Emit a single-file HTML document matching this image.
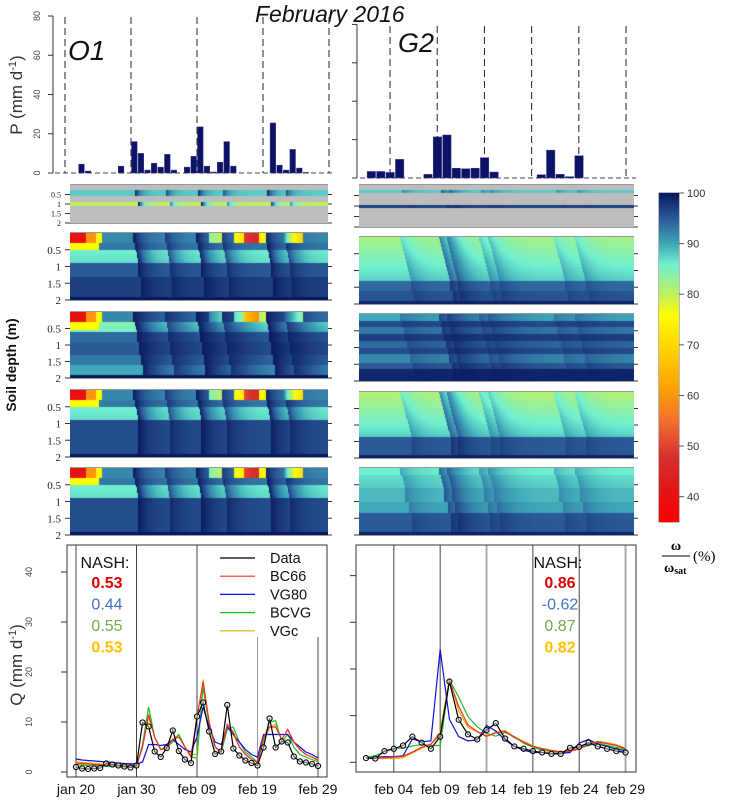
<!DOCTYPE html>
<html><head><meta charset="utf-8"><style>
html,body{margin:0;padding:0;background:#fff;}
body{width:733px;height:803px;position:relative;overflow:hidden;font-family:"Liberation Sans",sans-serif;}
canvas{position:absolute;}
svg{position:absolute;left:0;top:0;}
</style></head><body>
<svg id="svg" width="733" height="803"></svg>
<script>
// ---------- DATA ----------
const pLeftDays=[2,3,8,10,11,12,13,14,15,16,18,19,20,21,22,23,24,25,31,32,33,34,35,36];
const pLeftVals=[4.5,1,3.5,16,10,1.5,5,3,9.5,1.5,3,8.5,23.5,3.5,0.5,5.5,16,3.5,25.5,4,1.5,12,2.5,0.3];
const pRightDays=[1,2,3,4,7,8,9,10,11,12,13,14,19,20,21,22,23];
const pRightVals=[3.4,3.4,2.9,9.7,1.9,21.4,22.4,5.1,4.8,5.1,10.6,3.1,1.7,14.5,1.9,0.7,11.6];
const pTicks=[0,20,40,60,80];

const qLeftData=[1,0.7,0.6,0.7,0.8,1.7,1.5,1.3,1.1,0.9,1.3,9.9,9.1,4.1,3,4.8,8.3,4.2,2.5,1.8,11.1,13.9,8.1,3.6,4.1,13.4,4.7,3.3,2.3,1.8,1.3,4.9,10.7,4.9,6.1,5.9,3.1,2.1,1.9,1.6,1.2];
const qLeftBC66=[1.8,1.7,1.6,1.5,1.45,1.4,1.35,1.3,1.25,1.2,1.2,5,11.5,7,4.5,5,6.5,7,5,3,11,18,10,5,4,9.5,8,5,3.5,2.5,2,7,9,9,6.5,8.5,6,4.5,3.5,3,2.3];
const qLeftVG80=[2.6,2.4,2.3,2.2,2.1,2,1.9,1.8,1.7,1.65,1.6,2,5.5,5.5,5.3,5.5,6.5,5.5,4.5,4,7,13,9,6,5.5,9,7.5,6,4.5,3.5,3,7.5,7.5,7.5,7.5,7.5,6,5,4,3.5,2.8];
const qLeftBCVG=[1.5,1.4,1.3,1.25,1.2,1.15,1.1,1.05,1,1,1,5.5,13,7,4.5,5,6,7.5,5,3,2.8,17,9.5,5,4,8.5,9,6,4,3,2,6.5,10,10.3,6,7.5,5,3.5,3,2.5,2];
const qLeftVGc=[2,1.9,1.8,1.7,1.6,1.55,1.5,1.45,1.4,1.35,1.3,5,11,7,4.5,4.5,6.5,7.5,5,3.5,3.5,18.5,10,5,4,9.5,7.5,5,3.5,2.5,2,6,9,9.5,6.5,8.5,6,4.5,3.5,3,2.5];
const qLeftTicks=[0,10,20,30,40];
const qLeftLabels=["jan 20","jan 30","feb 09","feb 19","feb 29"];
const qLeftLabelDays=[0,10,20,30,40];

const qRightData=[0.9,0.8,2.4,2.9,3.6,5.5,4.2,2.9,5.5,17.3,9.1,6,4.9,6.9,8.4,5.1,3.4,2.9,2.4,2.1,1.8,1.8,3.1,3.3,4.2,3.4,2.9,2.4,2.1];
const qRightVG80=[0.9,1.1,1.2,1.2,1.4,5,4.4,4.6,24.2,9.2,5.5,4.6,4.8,7.9,6.7,4.8,3.4,2.6,2.1,2.1,1.9,1.9,2.1,4.1,4.9,3.9,3.4,2.8,2.5];
const qRightBCVG=[1.1,1.4,2.3,3,3,3.5,3.8,3.6,3.6,17.6,14,9.8,7.6,6.2,5.6,6.4,5.5,4.1,3.2,2.6,2.3,2.1,2.3,3,3.6,4.2,3.6,3.2,2.8];
const qRightVGc=[0.9,0.8,0.8,0.8,1,2,3,3.8,6.5,18,11,7.5,6.5,5.5,6.5,6.8,5.5,4.5,3.5,3,2.6,2.3,2.5,3,4,4.5,4.2,3.8,3];
const qRightBC66=[0.9,0.9,1,1.1,1.3,2.2,3.2,3.9,6,17.5,12,8,6.6,5.6,6.3,6.6,5.3,4.3,3.4,2.9,2.5,2.2,2.4,2.9,3.9,4.4,4,3.6,2.9];
const qRightTicks=[0,10,20,30,40];
const qRightLabels=["feb 04","feb 09","feb 14","feb 19","feb 24","feb 29"];
const qRightLabelDays=[3,8,13,18,23,28];

const nashLeft=["0.53","0.44","0.55","0.53"];
const nashRight=["0.86","-0.62","0.87","0.82"];
const seriesNames=["Data","BC66","VG80","BCVG","VGc"];
const seriesColors=["#000000","#ee3030","#1010e0","#20c020","#f0a800"];

// heatmap specs: layers [d0,d1,vTop,vBot]; events [day,strength]; hot [day0,day1,depthMax,value]
const hmLeftBC66Layers=[[0,0.3,92,92],[0.3,0.5,93,93],[0.5,0.9,86,87],[0.9,1.3,95,95],[1.3,1.9,97,97],[1.9,2,100,100]];
const hmLeftVG80Layers=[[0,0.3,92,92],[0.3,0.6,84,86],[0.6,0.9,94,94],[0.9,1.3,95,95],[1.3,1.6,93,93],[1.6,1.9,90,90],[1.9,2,100,100]];
const hmLeftBCVGLayers=[[0,0.3,92,92],[0.3,0.5,93,93],[0.5,0.9,86,87],[0.9,1.9,96,96],[1.9,2,100,100]];
const hmLeftVGcLayers=[[0,0.3,92,92],[0.3,0.5,93,93],[0.5,0.9,86,87],[0.9,1.9,96,96],[1.9,2,100,100]];
const hmLeftEvents=[[10,1],[15,0.7],[20,1],[24,0.7],[31,1],[34,0.7]];
const hmLeftHot=[[0,2.5,0.25,40],[2.5,4,0.25,60],[4,5,0.15,75],[0,4.5,0.5,76],[22,24,0.06,78],[26,27.5,0.15,70],[27.5,30,0.22,45],[30,31,0.2,74],[34,37,0.1,65]];
const hmRightBC66Layers=[[0,1.3,82,88],[1.3,1.6,94,94],[1.6,1.9,95.5,95.5],[1.9,2,99,99]];
const hmRightVG80Layers=[[0,0.2,90,90],[0.2,0.4,96,96],[0.4,0.6,93,93],[0.6,0.8,97,97],[0.8,1.0,94,94],[1.0,1.2,96,96],[1.2,1.45,92,92],[1.45,1.65,95,95],[1.65,2,99,99]];
const hmRightBCVGLayers=[[0,1.35,81,88],[1.35,1.9,95,95],[1.9,2,99,99]];
const hmRightVGcLayers=[[0,0.2,86,86],[0.2,0.6,87,88],[0.6,1.0,89,89],[1.0,1.35,90,90],[1.35,1.9,95,95],[1.9,2,99,99]];
const hmRightEvents=[[3.6,0.3],[7.7,0.6],[8.5,0.45],[11.9,0.3],[12.9,0.25],[19.8,0.25],[22,0.25]];

// ---------- helpers ----------
const NS="http://www.w3.org/2000/svg";
const svg=document.getElementById('svg');
function el(tag,attrs,parent){const e=document.createElementNS(NS,tag);for(const k in attrs)e.setAttribute(k,attrs[k]);(parent||svg).appendChild(e);return e;}
function txt(x,y,s,attrs,parent){const t=el('text',Object.assign({x:x,y:y},attrs||{}),parent);t.textContent=s;return t;}

const cstops=[[35,[255,0,0]],[42,[224,24,24]],[48,[216,48,48]],[55,[240,112,48]],[62,[255,165,0]],[70,[255,215,0]],[76,[255,255,0]],[80,[192,240,96]],[86,[112,240,208]],[90,[64,168,184]],[95,[42,90,152]],[100,[10,26,96]]];
function cmap(v){v=Math.max(35,Math.min(100,v));for(let i=1;i<cstops.length;i++){if(v<=cstops[i][0]){const a=cstops[i-1],b=cstops[i];const f=(v-a[0])/(b[0]-a[0]);const c=a[1].map((q,j)=>Math.round(q+(b[1][j]-q)*f));return 'rgb('+c.join(',')+')';}}return 'rgb(10,26,96)';}

// ---------- titles ----------
let t=txt(255,22,"February 2016",{'font-size':23,'font-style':'italic',fill:'#111'});


// ---------- P left ----------
const gPL=el('g',{});
function pxL(d){return 65+6.6*d;} function pyL(v){return 173-1.9625*v;}
el('line',{x1:53,y1:pyL(80),x2:53,y2:pyL(0),stroke:'#333'},gPL);
pTicks.forEach(v=>{el('line',{x1:48,y1:pyL(v),x2:53,y2:pyL(v),stroke:'#333'},gPL);
 const tt=txt(40,pyL(v),String(v),{'font-size':9,fill:'#444','text-anchor':'middle',transform:'rotate(-90 40 '+pyL(v)+')'},gPL);});
el('line',{x1:55,y1:pyL(0),x2:335,y2:pyL(0),stroke:'#444','stroke-dasharray':'5,3'},gPL);
[0,10,20,30,40].forEach(d=>el('line',{x1:pxL(d),y1:17,x2:pxL(d),y2:pyL(0),stroke:'#222','stroke-dasharray':'7,4'},gPL));
pLeftDays.forEach((d,i)=>{const r=el('rect',{x:pxL(d)+0.5,y:pyL(pLeftVals[i]),width:5.6,height:pyL(0)-pyL(pLeftVals[i]),fill:'#0d1266',stroke:'#3a3f88','stroke-width':0.5},gPL);
 });
t=txt(68,60,"O1",{'font-size':28,'font-style':'italic',fill:'#111'},gPL);
t=txt(22,95,"P (mm d",{'font-size':17,fill:'#333','text-anchor':'middle',transform:'rotate(-90 22 95)'});

const sup=el('tspan',{'font-size':11,dy:-6});sup.textContent='-1';t.appendChild(sup);const cl=el('tspan',{dy:6});cl.textContent=')';t.appendChild(cl);

// ---------- P right ----------
const gPR=el('g',{});
function pxR(d){return 361.7+9.44*d;} function pyR(v){return 178-1.92*v;}
el('line',{x1:357,y1:pyR(80),x2:357,y2:pyR(0),stroke:'#333'},gPR);
pTicks.forEach(v=>el('line',{x1:352,y1:pyR(v),x2:357,y2:pyR(v),stroke:'#333'},gPR));
el('line',{x1:360,y1:pyR(0),x2:636,y2:pyR(0),stroke:'#444','stroke-dasharray':'5,3'},gPR);
[3,8,13,18,23,28].forEach(d=>el('line',{x1:pxR(d),y1:26,x2:pxR(d),y2:pyR(0),stroke:'#222','stroke-dasharray':'7,4'},gPR));
pRightDays.forEach((d,i)=>{const r=el('rect',{x:pxR(d)-4,y:pyR(pRightVals[i]),width:8.4,height:pyR(0)-pyR(pRightVals[i]),fill:'#0d1266',stroke:'#3a3f88','stroke-width':0.5},gPR);
 });
t=txt(398,52,"G2",{'font-size':27,'font-style':'italic',fill:'#111'},gPR);

// ---------- heatmaps ----------
function heat(name,x0,y0,w,h,nDays,dayOff,layers,events,hot,tau,obs){
 const c=document.createElement('canvas');c.width=w;c.height=h;c.style.left=x0+'px';c.style.top=y0+'px';
 
 
 document.body.appendChild(c);const g=c.getContext('2d');
 if(obs){g.fillStyle='#bdbdbd';g.fillRect(0,0,w,h);}
 const dpx=h/2;
 for(let px=0;px<w;px++){
  const day=dayOff+px/w*nDays;
  layers.forEach(L=>{
   const ya=Math.round(L[0]*dpx),yb=Math.round(L[1]*dpx);
   const step=(L[2]!==L[3])?2:(yb-ya);
   for(let y=ya;y<yb;y+=step){
    const dm=(y/dpx);const f=(y-ya)/Math.max(1,yb-ya);
    let v=L[2]+(L[3]-L[2])*f;
    hot.forEach(H=>{if(day>=H[0]&&day<H[1]&&dm<H[2])v=Math.min(v,H[3]);});
    events.forEach(E=>{const lag=dm*0.9;const dt=day-E[0]-lag;if(dt>=0){v=v+(100-v)*E[1]*Math.exp(-dt/tau);}});
    g.fillStyle=cmap(v);g.fillRect(px,y,1,Math.min(step,yb-y));
   }
  });
 }
 return c;
}
heat('heatmap-obs-left',70,185,258,38,41,0,[[0.25,0.6,88,88],[0.9,1.1,80,80]],hmLeftEvents,[],0.8,true);
heat('heatmap-bc66-left',70,233,258,67,41,0,hmLeftBC66Layers,hmLeftEvents,hmLeftHot,1.6,false);
heat('heatmap-vg80-left',70,312,258,66,41,0,hmLeftVG80Layers,hmLeftEvents,hmLeftHot,4,false);
heat('heatmap-bcvg-left',70,390,258,67,41,0,hmLeftBCVGLayers,hmLeftEvents,hmLeftHot,1.8,false);
heat('heatmap-vgc-left',70,468,258,67,41,0,hmLeftVGcLayers,hmLeftEvents,hmLeftHot,1.8,false);
heat('heatmap-obs-right',359,185,275,42,29,-0.7,[[0.25,0.4,88,88],[0.95,1.1,97,97]],hmRightEvents,[],0.8,true);
heat('heatmap-bc66-right',359,237,275,67,29,-0.7,hmRightBC66Layers,hmRightEvents,[],1.2,false);
heat('heatmap-vg80-right',359,314,275,67,29,-0.7,hmRightVG80Layers,hmRightEvents,[],2.5,false);
heat('heatmap-bcvg-right',359,392,275,66,29,-0.7,hmRightBCVGLayers,hmRightEvents,[],1.2,false);
heat('heatmap-vgc-right',359,468,275,67,29,-0.7,hmRightVGcLayers,hmRightEvents,[],1.5,false);

// heatmap axes
const hmBoxes=[[70,185,258,38,true],[70,233,258,67,false],[70,312,258,66,false],[70,390,258,67,false],[70,468,258,67,false]];
const depthTicks=[0.5,1,1.5,2];
hmBoxes.forEach(b=>{const g=el('g',{});
 el('line',{x1:b[0],y1:b[1],x2:b[0]+b[2],y2:b[1],stroke:'#333','stroke-width':1},g);
 el('line',{x1:b[0],y1:b[1]+b[3],x2:b[0]+b[2],y2:b[1]+b[3],stroke:'#333','stroke-width':1},g);
 depthTicks.forEach(d=>{const y=b[1]+d/2*b[3];el('line',{x1:b[0]-5,y1:y,x2:b[0],y2:y,stroke:'#333'},g);el('line',{x1:b[0]+b[2],y1:y,x2:b[0]+b[2]+4,y2:y,stroke:'#333'},g);
  txt(b[0]-9,y+(b[4]?3:4),String(d),{'font-size':b[4]?8:11,'font-family':'Liberation Serif, serif','text-anchor':'end',fill:'#222'},g);});});
const hmBoxesR=[[359,185,275,42],[359,237,275,67],[359,314,275,67],[359,392,275,66],[359,468,275,67]];
const hmNames=["OBS","BC66","VG80","BCVG","VGc"];
hmBoxesR.forEach((b,i)=>{const g=el('g',{});
 el('line',{x1:b[0],y1:b[1],x2:b[0]+b[2],y2:b[1],stroke:'#333'},g);
 el('line',{x1:b[0],y1:b[1]+b[3],x2:b[0]+b[2],y2:b[1]+b[3],stroke:'#333'},g);
 depthTicks.forEach(d=>{const y=b[1]+d/2*b[3];el('line',{x1:b[0]-5,y1:y,x2:b[0],y2:y,stroke:'#333'},g);el('line',{x1:b[0]+b[2],y1:y,x2:b[0]+b[2]+4,y2:y,stroke:'#333'},g);});
 const tl=txt(632,b[1]+(i==0?29:38),hmNames[i],{'font-size':18,'font-weight':'bold','font-style':'italic','text-anchor':'end',fill:'#111'},g);
 });
t=txt(16,365,"Soil depth (m)",{'font-size':14,'font-weight':'bold','text-anchor':'middle',fill:'#111',transform:'rotate(-90 16 365)'});


// ---------- colorbar ----------
const cb=document.createElement('canvas');cb.width=20;cb.height=329;cb.style.left='659px';cb.style.top='193px';


document.body.appendChild(cb);{const g=cb.getContext('2d');for(let y=0;y<329;y++){g.fillStyle=cmap(100-y/329*65);g.fillRect(0,y,20,1);}}
const cbTicks=[100,90,80,70,60,50,40];
const gCB=el('g',{});
el('rect',{x:659,y:193,width:20,height:329,fill:'none',stroke:'#555','stroke-width':0.8},gCB);
cbTicks.forEach(v=>{const y=193+(100-v)*329/65;el('line',{x1:679,y1:y,x2:684,y2:y,stroke:'#555'},gCB);txt(687,y+4,String(v),{'font-size':11,fill:'#333'},gCB);});
const gU=el('g',{});
txt(676,550,"ω",{'font-size':14,'font-weight':'bold','font-family':'Liberation Serif, serif','text-anchor':'middle'},gU);
el('line',{x1:662,y1:556,x2:690,y2:556,stroke:'#000','stroke-width':1},gU);
const ws=txt(664,572,"ω",{'font-size':14,'font-weight':'bold','font-family':'Liberation Serif, serif'},gU);const sb=el('tspan',{'font-size':10,dy:2});sb.textContent='sat';ws.appendChild(sb);
txt(693,561,"(%)",{'font-size':15,'font-family':'Liberation Serif, serif'},gU);

// ---------- Q panels ----------
function qPanel(name,box,xf,yf,ticks,labels,labelDays,series,nash,nashX,vlines,legend){
 const g=el('g',{});
 vlines.forEach(V=>el('line',{x1:xf(V[0]),y1:V[1],x2:xf(V[0]),y2:box[1]+box[3],stroke:V[2],'stroke-width':V[3]},g));
 el('rect',{x:box[0],y:box[1],width:box[2],height:box[3],fill:'none',stroke:'#333','stroke-width':1},g);
 ticks.forEach(v=>{el('line',{x1:box[0]-6,y1:yf(v),x2:box[0],y2:yf(v),stroke:'#333'},g);});
 labels.forEach((s,i)=>{const l=txt(xf(labelDays[i]),794,s,{'font-size':14,'text-anchor':'middle',fill:'#111'},g);});
 for(let k=series.length-1;k>=0;k--){const S=series[k];
  const p=el('polyline',{points:S.v.map((v,i)=>xf(i)+','+yf(v)).join(' '),fill:'none',stroke:S.c,'stroke-width':1.2},g);
  
  if(S.n==='Data'){S.v.forEach((v,i)=>{const cc=el('circle',{cx:xf(i),cy:yf(v),r:2.6,fill:'#ddd','fill-opacity':0.5,stroke:'#000','stroke-width':1},g);});}
 }
 const nt=txt(nashX,568,"NASH:",{'font-size':16,'text-anchor':'middle',fill:'#111'},g);
 const nc=['#e00000','#4472c4','#70ad47','#ffc000'],nb=['bold','normal','normal','bold'];
 nash.forEach((s,i)=>{const n=txt(nashX+2,588+i*21.5,s,{'font-size':16,'font-weight':nb[i],'text-anchor':'middle',fill:nc[i]},g);});
 if(legend){seriesNames.forEach((s,i)=>{const y=558+i*18.2;const lg=el('g',{},g);
  el('line',{x1:220,y1:y,x2:255,y2:y,stroke:seriesColors[i],'stroke-width':1.2},lg);txt(270,y+5,s,{'font-size':14.5,fill:'#111'},lg);});}
 return g;
}
const xQL=d=>76+6.05*d, yQL=v=>772-5*v;
qPanel('discharge-left-chart',[67,545,260,232],xQL,yQL,qLeftTicks,qLeftLabels,qLeftLabelDays,
 [{n:'Data',v:qLeftData,c:'#000'},{n:'BC66',v:qLeftBC66,c:'#ee3030'},{n:'VG80',v:qLeftVG80,c:'#1010e0'},{n:'BCVG',v:qLeftBCVG,c:'#20c020'},{n:'VGc',v:qLeftVGc,c:'#f0a800'}],
 nashLeft,105,[[0,545,'#444',1],[10,545,'#444',1],[20,545,'#444',1],[30,637,'#999',1],[40,637,'#444',1]],true);
qLeftTicks.forEach(v=>{const l=txt(32,yQL(v),String(v),{'font-size':9,fill:'#444','text-anchor':'middle',transform:'rotate(-90 32 '+yQL(v)+')'});});
t=txt(22,665,"Q (mm d",{'font-size':17,fill:'#333','text-anchor':'middle',transform:'rotate(-90 22 665)'});

{const s2=el('tspan',{'font-size':11,dy:-6});s2.textContent='-1';t.appendChild(s2);const c2=el('tspan',{dy:6});c2.textContent=')';t.appendChild(c2);}
const xQR=d=>366+9.27*d, yQR=v=>762.3-4.667*v;
qPanel('discharge-right-chart',[356,545,280,227],xQR,yQR,qRightTicks,qRightLabels,qRightLabelDays,
 [{n:'Data',v:qRightData,c:'#000'},{n:'BC66',v:qRightBC66,c:'#ee3030'},{n:'VG80',v:qRightVG80,c:'#1010e0'},{n:'BCVG',v:qRightBCVG,c:'#20c020'},{n:'VGc',v:qRightVGc,c:'#f0a800'}],
 nashRight,558,[[3,545,'#444',1],[8,545,'#444',1],[13,545,'#aaa',2],[18,545,'#444',1],[23,545,'#444',1],[28,545,'#aaa',2]],false);
</script>
</body></html>
